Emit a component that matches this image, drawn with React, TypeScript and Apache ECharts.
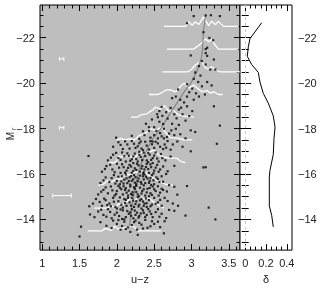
import React, { useEffect, useRef } from "react";
import * as echarts from "echarts";

// ---- axis ticks / labels ----
const X_MAJOR = [1, 1.5, 2, 2.5, 3, 3.5];
const X_MINOR = [1.0, 1.1, 1.2, 1.3, 1.4, 1.5, 1.6, 1.7, 1.8, 1.9, 2.0, 2.1, 2.2, 2.3, 2.4, 2.5, 2.6, 2.7, 2.8, 2.9, 3.0, 3.1, 3.2, 3.3, 3.4, 3.5, 3.6];
const Y_MAJOR = [-22, -20, -18, -16, -14];
const Y_MINOR = [-23, -22.5, -22, -21.5, -21, -20.5, -20, -19.5, -19, -18.5, -18, -17.5, -17, -16.5, -16, -15.5, -15, -14.5, -14, -13.5, -13];
const D_MAJOR = [0, 0.2, 0.4];
const D_MINOR = [0, 0.05, 0.1, 0.15, 0.2, 0.25, 0.3, 0.35, 0.4];

// ---- scatter galaxies: [u-z, M_r] ----
const galaxies: number[][] = [
  [1.5, -13.25], [1.52, -13.68], [2.28, -13.32], [2.63, -13.39], [2.05, -13.55], [2.35, -13.6], [2.18, -13.45],
  [2.0, -13.8], [2.1, -13.9], [2.2, -13.75], [2.25, -13.95], [2.3, -13.85], [2.45, -13.7], [2.55, -13.9], [2.64, -13.92], [1.95, -13.95], [2.15, -13.65], [2.38, -13.98], [2.5, -13.8],
  [1.86, -13.72], [1.93, -13.62], [2.07, -13.71], [2.12, -13.58], [2.23, -13.88], [2.33, -13.77], [2.41, -13.63], [2.47, -13.92], [2.58, -13.66], [2.02, -13.97], [2.27, -13.55], [1.78, -13.88],
  [1.7, -14.1], [1.75, -14.35], [1.82, -14.2], [1.88, -14.45], [1.93, -14.05], [2.0, -14.3], [2.03, -14.15], [2.08, -14.4], [2.12, -14.1], [2.16, -14.25], [2.2, -14.45], [2.22, -14.05], [2.27, -14.3], [2.3, -14.15], [2.35, -14.4], [2.4, -14.2], [2.44, -14.35], [2.48, -14.1], [2.55, -14.45], [2.6, -14.25], [2.66, -14.06], [2.77, -14.38], [2.92, -14.17], [3.32, -14.0], [2.0, -14.48], [2.25, -14.2], [2.33, -14.48], [2.1, -14.0],
  [1.64, -14.22], [1.79, -14.43], [1.86, -14.12], [1.91, -14.33], [1.97, -14.21], [2.05, -14.44], [2.07, -14.02], [2.14, -14.37], [2.19, -14.16], [2.24, -14.39], [2.29, -14.08], [2.32, -14.26], [2.38, -14.11], [2.42, -14.46], [2.46, -14.24], [2.52, -14.32], [2.57, -14.12], [2.7, -14.42], [2.18, -14.31], [2.36, -14.29],
  [1.68, -14.7], [1.72, -14.9], [1.8, -14.6], [1.85, -14.85], [1.9, -14.7], [1.95, -14.95], [1.98, -14.55], [2.02, -14.8], [2.06, -14.65], [2.1, -14.9], [2.13, -14.6], [2.17, -14.75], [2.2, -14.95], [2.23, -14.55], [2.26, -14.8], [2.3, -14.65], [2.33, -14.9], [2.37, -14.7], [2.4, -14.55], [2.43, -14.85], [2.47, -14.65], [2.5, -14.95], [2.55, -14.75], [2.6, -14.6], [2.64, -14.95], [2.75, -14.7], [2.82, -14.6], [3.23, -14.52], [2.15, -14.95], [2.28, -14.98], [2.36, -14.6], [1.92, -14.58], [2.08, -14.52],
  [1.63, -14.58], [1.77, -14.77], [1.83, -14.92], [1.87, -14.63], [1.96, -14.78], [2.04, -14.97], [2.11, -14.72], [2.19, -14.61], [2.22, -14.83], [2.29, -14.57], [2.31, -14.84], [2.35, -14.79], [2.39, -14.93], [2.45, -14.58], [2.52, -14.69], [2.58, -14.86], [2.68, -14.81], [2.25, -14.68], [2.12, -14.86], [2.4, -14.71],
  [1.75, -15.1], [1.82, -15.3], [1.88, -15.15], [1.92, -15.45], [1.97, -15.05], [2.0, -15.25], [2.04, -15.4], [2.08, -15.1], [2.11, -15.3], [2.15, -15.05], [2.18, -15.45], [2.21, -15.2], [2.24, -15.35], [2.28, -15.1], [2.31, -15.4], [2.34, -15.25], [2.38, -15.05], [2.41, -15.35], [2.45, -15.15], [2.48, -15.45], [2.52, -15.25], [2.56, -15.05], [2.6, -15.35], [2.62, -15.3], [2.81, -15.09], [2.94, -15.47], [2.77, -15.44], [2.02, -15.48], [2.26, -15.48], [2.36, -15.5], [2.13, -15.18], [2.43, -15.02],
  [1.79, -15.22], [1.85, -15.41], [1.94, -15.28], [1.99, -15.12], [2.06, -15.33], [2.09, -15.46], [2.16, -15.27], [2.19, -15.12], [2.23, -15.42], [2.26, -15.21], [2.3, -15.02], [2.33, -15.14], [2.36, -15.33], [2.4, -15.19], [2.44, -15.39], [2.47, -15.08], [2.5, -15.33], [2.55, -15.46], [2.58, -15.18], [2.67, -15.23], [2.21, -15.08], [2.12, -15.38],
  [1.78, -15.6], [1.85, -15.85], [1.9, -15.65], [1.96, -15.95], [2.0, -15.7], [2.04, -15.55], [2.07, -15.9], [2.1, -15.75], [2.14, -15.6], [2.17, -15.85], [2.2, -15.7], [2.23, -15.95], [2.26, -15.55], [2.29, -15.8], [2.32, -15.65], [2.35, -15.9], [2.38, -15.6], [2.41, -15.8], [2.44, -15.7], [2.47, -15.95], [2.5, -15.55], [2.53, -15.85], [2.57, -15.65], [2.62, -15.66], [2.7, -15.51], [2.66, -16.0], [2.12, -15.98], [2.24, -15.62], [2.37, -15.98], [2.46, -15.52],
  [1.82, -15.72], [1.93, -15.82], [1.98, -15.58], [2.02, -15.88], [2.06, -15.67], [2.09, -15.58], [2.13, -15.81], [2.16, -15.69], [2.19, -15.91], [2.22, -15.77], [2.25, -15.86], [2.28, -15.68], [2.31, -15.93], [2.33, -15.57], [2.36, -15.76], [2.39, -15.88], [2.43, -15.61], [2.45, -15.83], [2.49, -15.72], [2.55, -15.78], [2.6, -15.9], [2.18, -15.53],
  [1.8, -16.1], [1.86, -16.35], [1.94, -16.2], [2.0, -16.45], [2.05, -16.05], [2.09, -16.3], [2.13, -16.15], [2.17, -16.4], [2.2, -16.05], [2.24, -16.25], [2.27, -16.45], [2.31, -16.1], [2.34, -16.35], [2.37, -16.2], [2.4, -16.45], [2.43, -16.05], [2.46, -16.3], [2.5, -16.15], [2.54, -16.4], [2.58, -16.2], [2.77, -16.36], [3.16, -16.29], [3.19, -16.3], [2.22, -16.48], [2.35, -16.02], [2.48, -16.48],
  [1.84, -16.22], [1.91, -16.41], [1.97, -16.08], [2.03, -16.28], [2.07, -16.43], [2.11, -16.06], [2.15, -16.27], [2.19, -16.33], [2.22, -16.13], [2.26, -16.18], [2.29, -16.38], [2.33, -16.24], [2.36, -16.09], [2.39, -16.31], [2.42, -16.22], [2.45, -16.42], [2.49, -16.03], [2.52, -16.28], [2.56, -16.1], [2.62, -16.33], [2.68, -16.12],
  [1.62, -16.79], [1.88, -16.6], [1.95, -16.85], [2.02, -16.7], [2.07, -16.95], [2.12, -16.55], [2.16, -16.8], [2.2, -16.65], [2.24, -16.9], [2.28, -16.55], [2.32, -16.75], [2.36, -16.95], [2.4, -16.6], [2.44, -16.85], [2.48, -16.7], [2.52, -16.95], [2.56, -16.55], [2.61, -16.7], [2.99, -17.0], [2.3, -16.98], [2.42, -16.52],
  [1.92, -16.72], [1.99, -16.93], [2.05, -16.62], [2.1, -16.78], [2.14, -16.91], [2.18, -16.58], [2.22, -16.77], [2.26, -16.66], [2.3, -16.85], [2.34, -16.61], [2.38, -16.79], [2.42, -16.93], [2.46, -16.62], [2.5, -16.81], [2.54, -16.68], [2.59, -16.88], [2.65, -16.6], [2.72, -16.77],
  [1.95, -17.2], [2.02, -17.4], [2.08, -17.1], [2.14, -17.3], [2.2, -17.45], [2.25, -17.15], [2.3, -17.35], [2.35, -17.05], [2.4, -17.25], [2.45, -17.45], [2.5, -17.15], [2.55, -17.35], [2.62, -17.1], [2.64, -17.3], [2.72, -17.07], [2.68, -17.45], [2.88, -17.2], [3.34, -17.33], [2.81, -17.43], [2.32, -17.43],
  [2.05, -17.28], [2.11, -17.44], [2.17, -17.12], [2.23, -17.33], [2.28, -17.22], [2.33, -17.12], [2.38, -17.42], [2.43, -17.08], [2.47, -17.31], [2.52, -17.42], [2.58, -17.2], [2.66, -17.16], [2.75, -17.3],
  [1.99, -17.6], [2.37, -17.71], [2.43, -17.9], [2.5, -17.71], [2.55, -17.57], [2.48, -17.43], [2.63, -17.57], [2.67, -17.63], [2.7, -17.78], [2.77, -17.71], [2.92, -17.57], [2.63, -17.99], [2.79, -17.99], [2.99, -17.92], [3.05, -17.85], [2.3, -17.55], [2.58, -17.8],
  [2.2, -17.68], [2.35, -17.88], [2.45, -17.6], [2.53, -17.9], [2.6, -17.66], [2.73, -17.92], [2.85, -17.75],
  [2.39, -18.21], [2.43, -18.06], [2.5, -18.06], [2.68, -18.44], [2.74, -18.21], [2.83, -18.16], [2.92, -18.35], [3.38, -18.13], [2.57, -18.3],
  [2.47, -18.4], [2.62, -18.2], [2.66, -18.72], [2.8, -18.45], [2.86, -18.92], [2.97, -18.55], [2.6, -18.95],
  [2.57, -18.77], [2.54, -18.63], [2.55, -18.5], [2.61, -18.56], [2.77, -18.63], [2.88, -18.63], [2.72, -18.91], [2.83, -18.84], [2.94, -18.98], [3.01, -18.77], [3.3, -18.98],
  [2.74, -19.34], [2.79, -19.41], [2.85, -19.27], [2.94, -19.41], [3.03, -19.27], [3.1, -19.41], [2.94, -19.95], [3.01, -19.76], [3.14, -19.86], [3.27, -19.9],
  [2.9, -19.15], [2.97, -19.6], [3.06, -19.55], [2.82, -19.72], [3.18, -19.5],
  [3.03, -20.19], [3.09, -20.05], [3.21, -20.05], [3.12, -20.33], [3.05, -20.47], [3.25, -20.6], [3.32, -20.6], [3.1, -20.75], [3.19, -20.82], [3.14, -20.97],
  [3.3, -21.04], [2.99, -21.22], [3.19, -21.32], [3.21, -21.2], [3.21, -21.56], [3.19, -21.5], [3.24, -21.99], [3.29, -21.89], [3.16, -22.24], [2.94, -22.64], [3.03, -22.95], [3.19, -22.98], [3.26, -22.99], [3.38, -22.95],
];

// ---- colour distributions per magnitude bin: baseline M_r, [u-z, height] ----
const HIST_M = [-22.5, -21.5, -20.5, -19.5, -18.5, -17.5, -16.5, -15.5, -14.5, -13.5];
const HIST_PTS: number[][][] = [
  [[2.63, 0], [2.92, 0], [2.96, 0.2], [3.01, 0.05], [3.05, 0.2], [3.1, 0.08], [3.16, 0.42], [3.23, 0.03], [3.27, 0.23], [3.32, 0.07], [3.36, 0.22], [3.43, 0], [3.63, 0]],
  [[2.67, 0], [3.03, 0], [3.08, 0.12], [3.13, 0.25], [3.19, 0.45], [3.23, 0.32], [3.27, 0.42], [3.31, 0.2], [3.36, 0], [3.63, 0]],
  [[2.61, 0], [2.95, 0], [3.0, 0.1], [3.05, 0.3], [3.1, 0.4], [3.14, 0.45], [3.18, 0.2], [3.22, 0.12], [3.27, 0.22], [3.32, 0.1], [3.38, 0], [3.65, 0]],
  [[2.43, 0], [2.55, 0], [2.6, 0.08], [2.66, 0.2], [2.72, 0.2], [2.79, 0.12], [2.85, 0.35], [2.9, 0.5], [2.97, 0.28], [3.03, 0.42], [3.08, 0.28], [3.14, 0.12], [3.21, 0.18], [3.25, 0.06], [3.3, 0.12], [3.36, 0], [3.42, 0]],
  [[2.19, 0], [2.27, 0], [2.32, 0.1], [2.4, 0.15], [2.47, 0.3], [2.52, 0.45], [2.58, 0.35], [2.64, 0.5], [2.7, 0.25], [2.76, 0.3], [2.82, 0.1], [2.9, 0.05], [3.03, 0]],
  [[2.0, 0], [2.05, 0.07], [2.1, 0], [2.17, 0.05], [2.24, 0], [2.3, 0.2], [2.38, 0.28], [2.45, 0.5], [2.52, 0.42], [2.6, 0.55], [2.66, 0.3], [2.72, 0.1], [2.82, 0.08], [2.9, 0], [3.01, 0]],
  [[1.89, 0], [1.98, 0], [2.03, 0.28], [2.1, 0.25], [2.17, 0.3], [2.23, 0.2], [2.3, 0.4], [2.36, 0.5], [2.42, 0.45], [2.5, 0.55], [2.56, 0.35], [2.62, 0.25], [2.7, 0.2], [2.8, 0.2], [2.86, 0.05], [2.92, 0]],
  [[1.75, 0], [1.82, 0.05], [1.87, 0.2], [1.93, 0.15], [2.0, 0.28], [2.06, 0.3], [2.12, 0.5], [2.18, 0.45], [2.24, 0.6], [2.3, 0.55], [2.36, 0.65], [2.42, 0.45], [2.5, 0.3], [2.58, 0.15], [2.65, 0.05], [2.75, 0]],
  [[1.7, 0], [1.86, 0], [1.92, 0.08], [1.98, 0.05], [2.03, 0.2], [2.08, 0.15], [2.14, 0.3], [2.19, 0.45], [2.24, 0.32], [2.3, 0.55], [2.36, 0.4], [2.42, 0.45], [2.48, 0.3], [2.55, 0.15], [2.63, 0]],
  [[1.61, 0], [1.8, 0], [1.84, 0.1], [1.89, 0.06], [1.93, 0.02], [1.97, 0.2], [2.02, 0.08], [2.08, 0.12], [2.14, 0.15], [2.2, 0.22], [2.24, 0.15], [2.28, 0], [2.59, 0]],
];

// ---- mean colour-magnitude relation ----
const TREND: number[][] = [
  [2.17, -13.7], [2.2, -14.5], [2.24, -15.3], [2.3, -16.2], [2.38, -16.9], [2.48, -17.55], [2.58, -17.95], [2.7, -18.6], [2.82, -19.2], [2.92, -19.7], [3.0, -20.05], [3.08, -20.6], [3.14, -21.25], [3.16, -22.25], [3.19, -23.0],
];

// ---- typical errors: [u-z centre, M_r, half-width] ----
const ERRORS: number[][] = [[1.26, -21.07, 0.03], [1.26, -18.04, 0.03], [1.265, -15.05, 0.125]];

// ---- right panel: delta vs M_r ----
const DELTA: number[][] = [
  [0.159, -22.66], [0.046, -21.96], [0.03, -21.6], [0.02, -21.18], [0.062, -20.82], [0.126, -20.47], [0.142, -20.05], [0.174, -19.55], [0.222, -19.12], [0.27, -18.56], [0.287, -18.06], [0.277, -17.57], [0.27, -16.86], [0.238, -16.15], [0.232, -15.87], [0.232, -14.6], [0.255, -14.17], [0.27, -13.67],
];

const FONT = "Liberation Sans";
const fmtNum = (v: number) => {
  const s = String(Math.round(v * 100) / 100);
  return s.replace("-", "\u2212");
};

function axis(grid: number, pos: string, min: number, max: number, ticks: number[], len: number, labels: number[] | null, extra: any = {}) {
  return {
    type: "value",
    gridIndex: grid,
    position: pos,
    min,
    max,
    inverse: extra.inverse || false,
    axisLine: { show: false },
    splitLine: { show: false },
    axisTick: { show: true, inside: true, length: len, customValues: ticks, lineStyle: { color: "#000", width: 1 } },
    axisLabel: labels
      ? { show: true, customValues: labels, formatter: fmtNum, fontFamily: FONT, fontSize: 11, color: "#222", margin: extra.margin ?? 6 }
      : { show: false },
    ...(extra.name ? { name: extra.name, nameLocation: "middle", nameGap: extra.nameGap, nameTextStyle: { fontFamily: FONT, fontSize: 11, color: "#222" } } : {}),
  };
}

export default function App() {
  const ref = useRef<HTMLDivElement>(null);
  useEffect(() => {
    if (!ref.current) return;
    const chart = echarts.init(ref.current, undefined, { renderer: "svg" });
    const XL: [number, number] = [0.97, 3.65];
    const YL: [number, number] = [-23.44, -12.65];
    const DL: [number, number] = [-0.05, 0.45];
    const series: any[] = [];
    HIST_M.forEach((m, i) => {
      series.push({
        type: "line",
        xAxisIndex: 0,
        yAxisIndex: 0,
        data: HIST_PTS[i].map(([x, h]) => [x, m - h]),
        showSymbol: false,
        symbol: "none",
        lineStyle: { color: "#ffffff", width: 1.3 },
        silent: true,
        z: 2,
      });
    });
    series.push({
      type: "line",
      xAxisIndex: 0,
      yAxisIndex: 0,
      data: TREND,
      showSymbol: false,
      symbol: "none",
      smooth: 0.3,
      lineStyle: { color: "#858585", width: 1.2 },
      z: 3,
    });
    series.push({
      type: "scatter",
      xAxisIndex: 0,
      yAxisIndex: 0,
      data: galaxies,
      symbol: "rect",
      symbolSize: 2.2,
      itemStyle: { color: "#000" },
      z: 4,
    });
    series.push({
      type: "custom",
      xAxisIndex: 0,
      yAxisIndex: 0,
      data: ERRORS,
      z: 4,
      renderItem: (params: any, api: any) => {
        const x = api.value(0), y = api.value(1), e = api.value(2);
        const a = api.coord([x - e, y]);
        const b = api.coord([x + e, y]);
        const st = { stroke: "#ffffff", lineWidth: 1 };
        return {
          type: "group",
          children: [
            { type: "line", shape: { x1: a[0], y1: a[1], x2: b[0], y2: b[1] }, style: st },
            { type: "line", shape: { x1: a[0], y1: a[1] - 2, x2: a[0], y2: a[1] + 2 }, style: st },
            { type: "line", shape: { x1: b[0], y1: b[1] - 2, x2: b[0], y2: b[1] + 2 }, style: st },
          ],
        };
      },
    });
    series.push({
      type: "line",
      xAxisIndex: 4,
      yAxisIndex: 4,
      data: DELTA,
      showSymbol: false,
      symbol: "none",
      lineStyle: { color: "#000", width: 1 },
      markLine: {
        silent: true,
        symbol: "none",
        label: { show: false },
        lineStyle: { color: "#c8c8c8", type: [3, 3], width: 1 },
        data: [{ xAxis: 0 }],
      },
    });

    chart.setOption({
      animation: false,
      grid: [
        { left: 40, top: 5, width: 200, height: 254, show: true, backgroundColor: "#bebebe", borderColor: "#000", borderWidth: 1 },
        { left: 240, top: 5, width: 52, height: 254, show: true, backgroundColor: "#ffffff", borderColor: "#000", borderWidth: 1 },
      ],
      xAxis: [
        axis(0, "bottom", XL[0], XL[1], X_MAJOR, 6, X_MAJOR, { name: "u\u2212z", nameGap: 20, margin: 7 }),
        axis(0, "bottom", XL[0], XL[1], X_MINOR, 3.5, null),
        axis(0, "top", XL[0], XL[1], X_MAJOR, 6, null),
        axis(0, "top", XL[0], XL[1], X_MINOR, 3.5, null),
        axis(1, "bottom", DL[0], DL[1], D_MAJOR, 6, D_MAJOR, { name: "\u03b4", nameGap: 20, margin: 7 }),
        axis(1, "bottom", DL[0], DL[1], D_MINOR, 3.5, null),
        axis(1, "top", DL[0], DL[1], D_MAJOR, 6, null),
        axis(1, "top", DL[0], DL[1], D_MINOR, 3.5, null),
      ],
      yAxis: [
        axis(0, "left", YL[0], YL[1], Y_MAJOR, 6, Y_MAJOR, { inverse: true, margin: 5 }),
        axis(0, "left", YL[0], YL[1], Y_MINOR, 3.5, null, { inverse: true }),
        axis(0, "right", YL[0], YL[1], Y_MAJOR, 6, null, { inverse: true }),
        axis(0, "right", YL[0], YL[1], Y_MINOR, 3.5, null, { inverse: true }),
        axis(1, "left", YL[0], YL[1], Y_MAJOR, 6, null, { inverse: true }),
        axis(1, "left", YL[0], YL[1], Y_MINOR, 3.5, null, { inverse: true }),
        axis(1, "right", YL[0], YL[1], Y_MAJOR, 6, Y_MAJOR, { inverse: true, margin: 6 }),
        axis(1, "right", YL[0], YL[1], Y_MINOR, 3.5, null, { inverse: true }),
      ],
      graphic: [
        {
          type: "group",
          x: 10,
          y: 131,
          rotation: Math.PI / 2,
          children: [
            { type: "text", x: -5, y: 0, style: { text: "M", fontFamily: FONT, fontSize: 10, fill: "#222", textAlign: "center", textVerticalAlign: "middle" } },
            { type: "text", x: 1, y: 3, style: { text: "r", fontFamily: FONT, fontSize: 7, fill: "#222", textAlign: "left", textVerticalAlign: "middle" } },
          ],
        },
      ],
      series,
    });
    return () => chart.dispose();
  }, []);
  return <div ref={ref} style={{ position: "fixed", left: 0, top: 0, width: 320, height: 289 }} />;
}
